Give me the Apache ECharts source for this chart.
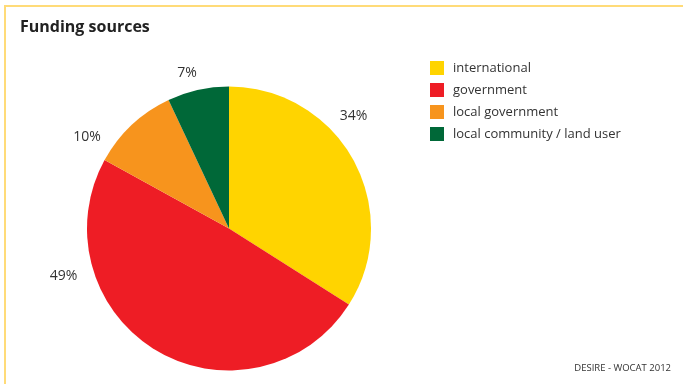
<!DOCTYPE html>
<html>
<head>
<meta charset="utf-8">
<script src="https://cdn.jsdelivr.net/npm/echarts@6/dist/echarts.min.js"></script>
<style>html,body{margin:0;padding:0;background:#fff}#c{width:683px;height:384px}</style>
</head>
<body>
<div id="c"></div>
<script>
var categories = ['international', 'government', 'local government', 'local community / land user'];
var values = [34, 49, 10, 7];
var colors = ['#FFD400', '#EE1D25', '#F7941D', '#006838'];
// label placement (polar, degrees clockwise from top, distance px from centre)
var labelAngles = [47.9, 254.1, 302.8, 344.9];
var labelDist = [168, 172, 169, 161];
var cx = 229, cy = 228.5, R = 142;

var chart = echarts.init(document.getElementById('c'), null, {renderer: 'canvas'});
var font = '"Open Sans", "Noto Sans", sans-serif';
chart.setOption({
  backgroundColor: '#fff',
  animation: false,
  title: {
    text: 'Funding sources', left: 15, top: 14,
    textStyle: {fontFamily: font, fontWeight: 'bold', fontSize: 16, color: '#222'}
  },
  legend: {
    orient: 'vertical', left: 425, top: 56, itemWidth: 14, itemHeight: 14, itemGap: 8,
    icon: 'rect', selectedMode: false,
    textStyle: {fontFamily: font, fontSize: 13, color: '#333', padding: [0, 0, 0, 4]},
    data: categories
  },
  graphic: [
    {type: 'line', shape: {x1: 4, y1: 6, x2: 683, y2: 6}, style: {stroke: '#FFDB78', lineWidth: 2}},
    {type: 'line', shape: {x1: 5, y1: 5, x2: 5, y2: 384}, style: {stroke: '#FFDB78', lineWidth: 2}},
    {type: 'text', right: 12, top: 363, style: {text: 'DESIRE - WOCAT 2012', font: '9.5px ' + font, fill: '#333'}}
  ],
  series: [{
    type: 'pie',
    center: [cx, cy],
    radius: R,
    startAngle: 90,
    clockwise: true,
    avoidLabelOverlap: false,
    itemStyle: {borderWidth: 0},
    emphasis: {disabled: true},
    label: {
      show: true, position: 'outside', formatter: '{c}%',
      fontFamily: font, fontSize: 14, color: '#333'
    },
    labelLine: {show: false},
    labelLayout: function (p) {
      var i = p.dataIndex;
      var a = labelAngles[i] * Math.PI / 180;
      return {
        x: cx + labelDist[i] * Math.sin(a),
        y: cy - labelDist[i] * Math.cos(a),
        align: 'center', verticalAlign: 'middle'
      };
    },
    data: categories.map(function (c, i) {
      return {name: c, value: values[i], itemStyle: {color: colors[i]}};
    })
  }]
});
</script>
</body>
</html>
